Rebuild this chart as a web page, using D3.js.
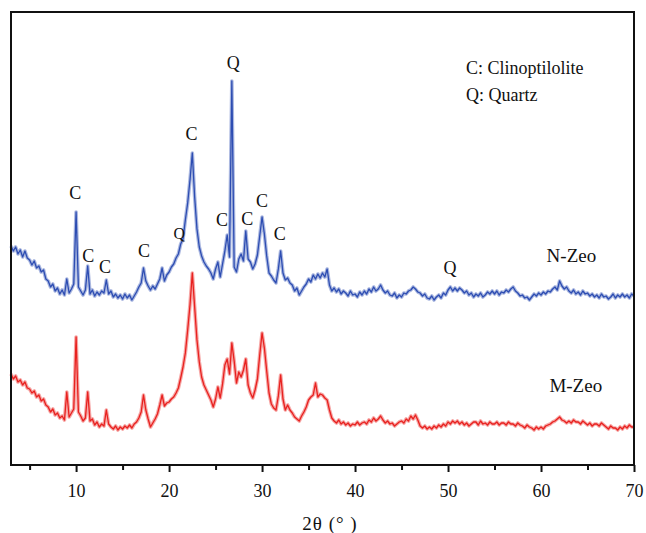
<!DOCTYPE html>
<html>
<head>
<meta charset="utf-8">
<script src="https://cdn.jsdelivr.net/npm/d3@7"></script>
<style>
  body { margin: 0; background: #fff; }
  svg { display: block; font-family: "Liberation Serif", "Times New Roman", serif; }
</style>
</head>
<body>
<svg id="chart"></svg>
<script>
// XRD scan: 2θ from 3° to 70°, step 0.25°
const scanStart = 3;
const scanStep = 0.25;

// intensity (a.u., stacked) for N-Zeo, one value per scan step
const nZeo = [
  219, 214, 218, 211, 215, 208, 214, 207,
  205, 200, 204, 197, 199, 193, 195, 186,
  184, 178, 181, 174, 177, 171, 175, 170,
  186, 172, 176, 181, 253, 178, 174, 170,
  175, 199, 171, 175, 169, 173, 170, 174,
  172, 185, 171, 174, 168, 171, 167, 170,
  166, 171, 167, 170, 165, 169, 173, 178,
  182, 197, 184, 179, 175, 179, 176, 181,
  186, 197, 184, 190, 193, 198, 201, 207,
  211, 221, 226, 245, 262, 285, 312, 268,
  236, 218, 209, 203, 199, 196, 192, 186,
  196, 203, 188, 201, 214, 230, 208, 384,
  198, 193, 206, 211, 204, 234, 206, 203,
  196, 201, 210, 229, 248, 231, 209, 192,
  189, 185, 182, 196, 214, 192, 185, 187,
  182, 180, 174, 177, 170, 174, 178, 181,
  186, 183, 190, 186, 191, 187, 192, 188,
  196, 180, 174, 177, 173, 176, 171, 174,
  172, 169, 174, 170, 171, 168, 173, 170,
  174, 171, 176, 173, 178, 174, 176, 180,
  175, 172, 174, 170, 169, 172, 167, 170,
  168, 172, 171, 174, 175, 178, 176, 173,
  172, 169, 171, 167, 166, 169, 165, 168,
  170, 167, 172, 170, 175, 178, 174, 177,
  174, 177, 175, 172, 174, 170, 172, 168,
  171, 169, 172, 168, 170, 173, 171, 174,
  171, 174, 170, 173, 172, 175, 173, 176,
  178, 174, 172, 169, 170, 167, 168, 165,
  168, 171, 169, 172, 170, 173, 171, 174,
  173, 176, 178, 175, 184, 179, 176, 178,
  174, 172, 175, 171, 173, 170, 174, 171,
  172, 169, 171, 168, 170, 167, 171, 168,
  169, 166, 168, 171, 167, 170, 168, 171,
  168, 170, 167, 171, 169
];

// intensity (a.u., stacked) for M-Zeo
const mZeo = [
  91, 86, 89, 83, 85, 80, 83, 77,
  76, 72, 74, 68, 70, 64, 66, 60,
  58, 53, 56, 50, 52, 47, 49, 45,
  73, 48, 52, 56, 128, 53, 49, 44,
  47, 73, 44, 46, 40, 43, 38, 41,
  39, 55, 41, 38, 36, 39, 35, 38,
  36, 39, 37, 40, 37, 41, 43, 47,
  53, 70, 55, 46, 38, 42, 46, 51,
  60, 70, 59, 62, 63, 66, 68, 72,
  77, 87, 98, 112, 135, 160, 192, 158,
  125, 103, 88, 80, 75, 70, 65, 58,
  66, 78, 67, 81, 100, 106, 91, 122,
  104, 82, 93, 88, 95, 106, 80, 72,
  67, 75, 86, 110, 132, 117, 94, 72,
  61, 57, 55, 69, 90, 66, 55, 60,
  55, 52, 48, 46, 44, 49, 53, 58,
  65, 68, 70, 82, 68, 71, 70, 67,
  65, 55, 47, 44, 42, 45, 41, 43,
  40, 42, 39, 41, 40, 43, 40, 42,
  43, 41, 45, 43, 47, 44, 46, 49,
  45, 42, 44, 41, 42, 39, 41, 43,
  44, 42, 46, 44, 49, 46, 50, 45,
  39, 37, 39, 36, 38, 36, 39, 37,
  40, 38, 41, 39, 43, 41, 44, 42,
  44, 41, 43, 40, 42, 39, 41, 43,
  43, 40, 44, 41, 42, 40, 43, 41,
  41, 43, 40, 42, 42, 40, 43, 41,
  41, 39, 42, 40, 39, 37, 40, 38,
  37, 35, 38, 36, 38, 36, 39, 40,
  41, 43, 44, 46, 48, 45, 44, 42,
  44, 42, 45, 43, 43, 41, 44, 42,
  40, 42, 39, 41, 41, 39, 42, 40,
  38, 36, 39, 37, 37, 35, 38, 36,
  39, 37, 40, 38, 38
];

// phase labels: [text, 2θ, intensity of label baseline]
const phaseLabels = [
  ["C", 9.9, 266], ["C", 11.3, 203], ["C", 13.1, 192], ["C", 17.3, 208],
  ["Q", 21.1, 226], ["C", 22.4, 325], ["C", 25.7, 239], ["Q", 26.9, 396],
  ["C", 28.4, 240], ["C", 30.0, 258], ["C", 31.9, 225], ["Q", 50.2, 191]
];

const legendLines = ["C: Clinoptilolite", "Q: Quartz"];
const seriesNames = ["N-Zeo", "M-Zeo"];
const majorTicks = [10, 20, 30, 40, 50, 60, 70];
const minorTicks = [5, 15, 25, 35, 45, 55, 65];

const width = 646, height = 533;
const margin = { top: 12, right: 12, bottom: 68, left: 11 };

const svg = d3.select('#chart')
    .attr('width', width)
    .attr('height', height);

const x = d3.scaleLinear()
    .domain([3, 70])
    .range([margin.left, width - margin.right]);

const y = d3.scaleLinear()
    .domain([0, 453])
    .range([height - margin.bottom, margin.top]);

const angles = nZeo.map((d, i) => scanStart + i * scanStep);

const line = d3.line()
    .x((d, i) => x(angles[i]))
    .y(d => y(d));

// traces: soft wide stroke for the noise band, thin line on top
function drawTrace(values, color) {
    svg.append("path")
        .datum(values)
        .attr("fill", "none")
        .attr("stroke", color)
        .attr("stroke-opacity", 0.4)
        .attr("stroke-width", 3.6)
        .attr("stroke-linejoin", "round")
        .attr("d", line);
    svg.append("path")
        .datum(values)
        .attr("fill", "none")
        .attr("stroke", color)
        .attr("stroke-width", 1.3)
        .attr("stroke-linejoin", "round")
        .attr("d", line);
}
drawTrace(mZeo, "#e8211f");
drawTrace(nZeo, "#2d4db2");

// frame
svg.append("rect")
    .attr("x", margin.left)
    .attr("y", margin.top)
    .attr("width", width - margin.left - margin.right)
    .attr("height", height - margin.top - margin.bottom)
    .attr("fill", "none")
    .attr("stroke", "#111")
    .attr("stroke-width", 2);

// bottom axis, major and minor ticks
const axisY = height - margin.bottom;

const major = svg.append("g")
    .attr("transform", `translate(0,${axisY})`)
    .call(d3.axisBottom(x).tickValues(majorTicks).tickSize(7).tickPadding(12).tickFormat(d3.format("d")));
major.select(".domain").remove();
major.selectAll("line").attr("stroke", "#111").attr("stroke-width", 2);
major.selectAll("text")
    .attr("fill", "#111")
    .style("font-size", "18px")
    .style("font-family", '"Liberation Serif", "Times New Roman", serif');

const minor = svg.append("g")
    .attr("transform", `translate(0,${axisY})`)
    .call(d3.axisBottom(x).tickValues(minorTicks).tickSize(5).tickFormat(""));
minor.select(".domain").remove();
minor.selectAll("line").attr("stroke", "#111").attr("stroke-width", 2);

// axis title
svg.append("text")
    .attr("x", 330)
    .attr("y", 530)
    .attr("text-anchor", "middle")
    .attr("fill", "#111")
    .style("font-size", "19px")
    .style("letter-spacing", "1px")
    .text("2θ (° )");

// phase labels
svg.append("g")
    .selectAll("text")
    .data(phaseLabels)
    .enter().append("text")
    .attr("x", d => x(d[1]))
    .attr("y", d => y(d[2]))
    .attr("text-anchor", "middle")
    .attr("fill", "#111")
    .style("font-size", d => d[1] < 22 && d[0] === "Q" ? "16px" : "18px")
    .text(d => d[0]);

// legend
svg.append("g")
    .selectAll("text")
    .data(legendLines)
    .enter().append("text")
    .attr("x", 466)
    .attr("y", (d, i) => 74 + i * 27)
    .attr("fill", "#111")
    .style("font-size", "18px")
    .text(d => d);

// series names
const namePos = [[60.6, 203], [60.9, 73]];
svg.append("g")
    .selectAll("text")
    .data(seriesNames)
    .enter().append("text")
    .attr("x", (d, i) => x(namePos[i][0]))
    .attr("y", (d, i) => y(namePos[i][1]))
    .attr("fill", "#111")
    .style("font-size", "19px")
    .text(d => d);
</script>
</body>
</html>
